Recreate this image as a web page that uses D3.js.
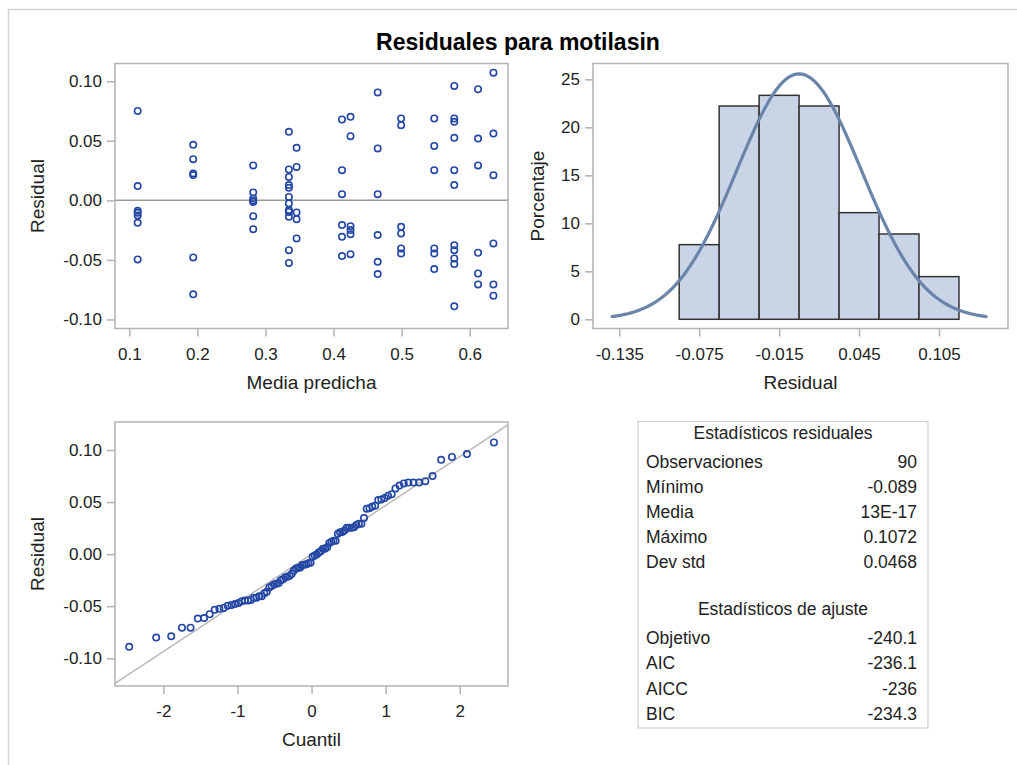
<!DOCTYPE html>
<html>
<head>
<meta charset="utf-8">
<script src="https://cdn.jsdelivr.net/npm/d3@7"></script>
<style>
  body { margin: 0; background: #fff; }
  svg { display: block; font-family: "Liberation Sans", Arial, sans-serif; }
</style>
</head>
<body>
<svg id="chart" width="1017" height="765"></svg>
<script>
// ---- data -------------------------------------------------------------
const titleText = "Residuales para motilasin";

// predicted mean for each group of observations
const predictedMeans = [0.1123, 0.1939, 0.2820, 0.3344, 0.3457, 0.4124, 0.4249,
                        0.4648, 0.4992, 0.5479, 0.5773, 0.6122, 0.6348];

// residuals observed at each predicted mean (same order as above)
const groupResiduals = [
  [0.075, 0.012, -0.0088, -0.0105, -0.0127, -0.0189, -0.0496],
  [0.0466, 0.0346, 0.0226, 0.0212, -0.0479, -0.0789],
  [0.0293, 0.0066, 0.0016, -0.0003, -0.0013, -0.0133, -0.0242],
  [0.0575, 0.0259, 0.0197, 0.0128, 0.0105, 0.0029, -0.0026, -0.0082, -0.0097, -0.0138, -0.0418, -0.0525],
  [0.0441, 0.0281, -0.0102, -0.0158, -0.032],
  [0.0679, 0.0253, 0.0052, -0.0208, -0.0306, -0.0468],
  [0.0701, 0.0539, -0.0217, -0.025, -0.0284, -0.0452],
  [0.0906, 0.0436, 0.0052, -0.0292, -0.0516, -0.0619],
  [0.0687, 0.0631, -0.0222, -0.0278, -0.0404, -0.0446],
  [0.0687, 0.0457, 0.0253, -0.0404, -0.0446, -0.0577],
  [0.0961, 0.0687, 0.0659, 0.0525, 0.0253, 0.0128, -0.0376, -0.0418, -0.0488, -0.0535, -0.089],
  [0.0933, 0.0519, 0.0293, -0.044, -0.0614, -0.0706],
  [0.1072, 0.0561, 0.0211, -0.0362, -0.0706, -0.0801]
];

// histogram bins
const binStart = -0.09;
const binWidth = 0.03;
const binCount = 7;

// summary tables
const residualStatsLabels = ["Observaciones", "Mínimo", "Media", "Máximo", "Dev std"];
const residualStatsValues = ["90", "-0.089", "13E-17", "0.1072", "0.0468"];
const fitStatsLabels = ["Objetivo", "AIC", "AICC", "BIC"];
const fitStatsValues = ["-240.1", "-236.1", "-236", "-234.3"];
const residualMean = 13e-17;
const residualStd = 0.0468;

// axis ticks
const fitTicks = [0.1, 0.2, 0.3, 0.4, 0.5, 0.6];
const residTicks = [-0.10, -0.05, 0.00, 0.05, 0.10];
const histXTicks = [-0.135, -0.075, -0.015, 0.045, 0.105];
const histYTicks = [0, 5, 10, 15, 20, 25];
const quantileTicks = [-2, -1, 0, 1, 2];

// ---- setup ------------------------------------------------------------
const points = [];
predictedMeans.forEach((m, i) => groupResiduals[i].forEach(r => points.push({ fit: m, res: r })));
const residuals = points.map(p => p.res);
const nObs = residuals.length;

const fmt = d3.formatLocale({ decimal: ".", thousands: ",", grouping: [3], currency: ["", ""], minus: "-" }).format;

const svg = d3.select("#chart");
const frameColor = "#b3b3b3";
const textColor = "#222";
const markerColor = "#2447a4";
const tickFont = 17;
const labelFont = 19;
const tableFont = 17.5;

// page border
svg.append("path")
  .attr("d", "M8.5,765 V9.5 H1017")
  .attr("fill", "none").attr("stroke", "#d6d6d6").attr("stroke-width", 1.5);

svg.append("text")
  .attr("x", 518).attr("y", 50)
  .attr("text-anchor", "middle")
  .attr("font-weight", "bold").attr("font-size", 23).attr("fill", "#000")
  .text(titleText);

function styleAxis(g) {
  g.select(".domain").remove();
  g.attr("font-family", null).attr("font-size", tickFont);
  g.selectAll(".tick line").attr("stroke", frameColor).attr("stroke-width", 1.5);
  g.selectAll(".tick text").attr("fill", textColor);
}

function drawFrame(box) {
  svg.append("rect")
    .attr("x", box.x0).attr("y", box.y0)
    .attr("width", box.x1 - box.x0).attr("height", box.y1 - box.y0)
    .attr("fill", "none").attr("stroke", frameColor).attr("stroke-width", 1.5);
}

function drawAxes(box, xs, ys, xt, yt, xf, yf, xLabel, yLabel, yLabelX) {
  svg.append("g").attr("transform", `translate(0,${box.y1})`)
    .call(d3.axisBottom(xs).tickValues(xt).tickFormat(xf).tickSizeInner(8).tickSizeOuter(0).tickPadding(11))
    .call(styleAxis);
  svg.append("g").attr("transform", `translate(${box.x0},0)`)
    .call(d3.axisLeft(ys).tickValues(yt).tickFormat(yf).tickSizeInner(8).tickSizeOuter(0).tickPadding(5))
    .call(styleAxis);
  svg.append("text")
    .attr("x", (box.x0 + box.x1) / 2).attr("y", box.y1 + 60)
    .attr("text-anchor", "middle").attr("font-size", labelFont).attr("fill", textColor)
    .text(xLabel);
  svg.append("text")
    .attr("transform", `translate(${yLabelX},${(box.y0 + box.y1) / 2}) rotate(-90)`)
    .attr("text-anchor", "middle").attr("font-size", labelFont).attr("fill", textColor)
    .text(yLabel);
}

function drawMarkers(sel) {
  sel.attr("r", 3.2).attr("fill", "none").attr("stroke", markerColor).attr("stroke-width", 1.6);
}

// ---- residual vs predicted mean --------------------------------------
{
  const box = { x0: 115, x1: 508, y0: 63.5, y1: 328.5 };
  const x = d3.scaleLinear().domain([0.079, 0.6562]).range([box.x0, box.x1]);
  const y = d3.scaleLinear().domain([-0.1076, 0.1149]).range([box.y1, box.y0]);
  svg.append("line")
    .attr("x1", box.x0).attr("x2", box.x1).attr("y1", y(0)).attr("y2", y(0))
    .attr("stroke", "#9a9a9a").attr("stroke-width", 1.5);
  svg.append("g").selectAll("circle").data(points).join("circle")
    .attr("cx", d => x(d.fit)).attr("cy", d => y(d.res)).call(drawMarkers);
  drawFrame(box);
  drawAxes(box, x, y, fitTicks, residTicks, fmt(".1f"), fmt(".2f"), "Media predicha", "Residual", 44);
}

// ---- histogram with normal density ------------------------------------
{
  const box = { x0: 593, x1: 1008, y0: 63.5, y1: 328.5 };
  const x = d3.scaleLinear().domain([-0.1547, 0.1568]).range([box.x0, box.x1]);
  const y = d3.scaleLinear().domain([-0.96, 26.65]).range([box.y1, box.y0]);
  const edges = d3.range(binCount + 1).map(i => +(binStart + i * binWidth).toFixed(4));
  const bins = d3.bin().domain([edges[0], edges[edges.length - 1]]).thresholds(edges.slice(1, -1))(residuals);
  svg.append("g").selectAll("rect").data(bins).join("rect")
    .attr("x", d => x(d.x0)).attr("width", d => x(d.x1) - x(d.x0))
    .attr("y", d => y(100 * d.length / nObs)).attr("height", d => y(0) - y(100 * d.length / nObs))
    .attr("fill", "#c9d5e6").attr("stroke", "#333").attr("stroke-width", 1.5);
  const pdfScale = 100 * binWidth / (residualStd * Math.sqrt(2 * Math.PI));
  const curveX = d3.range(-3, 3.0001, 0.05).map(k => residualMean + k * residualStd);
  const curve = curveX.map(v => [v, pdfScale * Math.exp(-0.5 * ((v - residualMean) / residualStd) ** 2)]);
  svg.append("path").datum(curve)
    .attr("d", d3.line().x(d => x(d[0])).y(d => y(d[1])))
    .attr("fill", "none").attr("stroke", "#6a84aa").attr("stroke-width", 3.2)
    .attr("stroke-linejoin", "round").attr("stroke-linecap", "round");
  drawFrame(box);
  drawAxes(box, x, y, histXTicks, histYTicks, fmt(".3f"), fmt("d"), "Residual", "Porcentaje", 544);
}

// ---- normal quantile plot --------------------------------------------
// inverse standard normal CDF (Acklam)
function probit(p) {
  const a = [-39.69683028665376, 220.9460984245205, -275.9285104469687, 138.3577518672690, -30.66479806614716, 2.506628277459239];
  const b = [-54.47609879822406, 161.5858368580409, -155.6989798598866, 66.80131188771972, -13.28068155288572];
  const c = [-0.007784894002430293, -0.3223964580411365, -2.400758277161838, -2.549732539343734, 4.374664141464968, 2.938163982698783];
  const d = [0.007784695709041462, 0.3224671290700398, 2.445134137142996, 3.754408661907416];
  const pl = 0.02425;
  if (p < pl) {
    const q = Math.sqrt(-2 * Math.log(p));
    return (((((c[0]*q+c[1])*q+c[2])*q+c[3])*q+c[4])*q+c[5]) / ((((d[0]*q+d[1])*q+d[2])*q+d[3])*q+1);
  }
  if (p > 1 - pl) {
    const q = Math.sqrt(-2 * Math.log(1 - p));
    return -(((((c[0]*q+c[1])*q+c[2])*q+c[3])*q+c[4])*q+c[5]) / ((((d[0]*q+d[1])*q+d[2])*q+d[3])*q+1);
  }
  const q = p - 0.5, r = q * q;
  return (((((a[0]*r+a[1])*r+a[2])*r+a[3])*r+a[4])*r+a[5])*q / (((((b[0]*r+b[1])*r+b[2])*r+b[3])*r+b[4])*r+1);
}
{
  const box = { x0: 115, x1: 508, y0: 422, y1: 686 };
  const x = d3.scaleLinear().domain([-2.653, 2.651]).range([box.x0, box.x1]);
  const y = d3.scaleLinear().domain([-0.1266, 0.1269]).range([box.y1, box.y0]);
  const sorted = residuals.slice().sort(d3.ascending);
  const qq = sorted.map((r, i) => ({ q: probit((i + 1 - 0.375) / (nObs + 0.25)), r }));
  const qx = x.domain();
  svg.append("line")
    .attr("x1", x(qx[0])).attr("y1", y(residualMean + residualStd * qx[0]))
    .attr("x2", x(qx[1])).attr("y2", y(residualMean + residualStd * qx[1]))
    .attr("stroke", "#b8b8b8").attr("stroke-width", 1.5);
  svg.append("g").selectAll("circle").data(qq).join("circle")
    .attr("cx", d => x(d.q)).attr("cy", d => y(d.r)).call(drawMarkers);
  drawFrame(box);
  drawAxes(box, x, y, quantileTicks, residTicks, fmt("d"), fmt(".2f"), "Cuantil", "Residual", 44);
}

// ---- statistics tables ------------------------------------------------
{
  const box = { x0: 638, x1: 928, y0: 421.5, y1: 728 };
  svg.append("rect")
    .attr("x", box.x0).attr("y", box.y0).attr("width", box.x1 - box.x0).attr("height", box.y1 - box.y0)
    .attr("fill", "none").attr("stroke", "#cfcfcf").attr("stroke-width", 1.2);
  const cx = (box.x0 + box.x1) / 2;
  const tg = svg.append("g").attr("font-size", tableFont).attr("fill", textColor);
  function block(title, titleY, labels, values, rowY0) {
    tg.append("text").attr("x", cx).attr("y", titleY).attr("dy", "0.35em")
      .attr("text-anchor", "middle").text(title);
    labels.forEach((l, i) => {
      const yy = rowY0 + i * 25.2;
      tg.append("text").attr("x", 646).attr("y", yy).attr("dy", "0.35em").text(l);
      tg.append("text").attr("x", 917).attr("y", yy).attr("dy", "0.35em").attr("text-anchor", "end").text(values[i]);
    });
  }
  block("Estadísticos residuales", 433, residualStatsLabels, residualStatsValues, 461.5);
  block("Estadísticos de ajuste", 608.5, fitStatsLabels, fitStatsValues, 638);
}
</script>
</body>
</html>
